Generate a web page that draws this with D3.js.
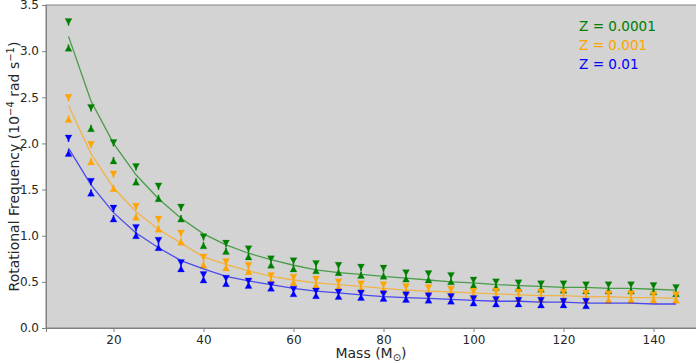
<!DOCTYPE html>
<html>
<head>
    <title>Rotational Frequency vs Mass</title>
    <script src="https://cdn.jsdelivr.net/npm/d3@7"></script>
    <style>
        body { margin: 0; background: #fff; }
        svg text { font-family: "DejaVu Sans", sans-serif; }
    </style>
</head>
<body>
    <div id="chart"></div>

    <script>
        // masses (solar masses)
        var masses = [10, 15, 20, 25, 30, 35, 40, 45, 50, 55, 60, 65, 70, 75, 80,
                      85, 90, 95, 100, 105, 110, 115, 120, 125, 130, 135, 140, 145];

        // Z = 0.0001
        var greenUpper = [3.32, 2.39, 2.01, 1.75, 1.54, 1.31, 0.99, 0.92, 0.86, 0.75, 0.73, 0.70, 0.68, 0.66,
                          0.65, 0.60, 0.59, 0.57, 0.52, 0.50, 0.49, 0.48, 0.48, 0.47, 0.47, 0.47, 0.46, 0.44];
        var greenLower = [3.03, 2.16, 1.81, 1.58, 1.40, 1.18, 0.89, 0.83, 0.77, 0.68, 0.64, 0.62, 0.60, 0.57,
                          0.56, 0.53, 0.52, 0.50, 0.46, 0.44, 0.43, 0.42, 0.41, 0.40, 0.40, 0.40, 0.39, 0.37];
        var greenFit   = [3.16, 2.46, 2.00, 1.66, 1.40, 1.19, 1.02, 0.90, 0.81, 0.74, 0.68, 0.63, 0.60, 0.58,
                          0.56, 0.54, 0.52, 0.50, 0.49, 0.47, 0.46, 0.45, 0.44, 0.44, 0.43, 0.43, 0.42, 0.41];

        // Z = 0.001
        var orangeUpper = [2.50, 1.99, 1.67, 1.32, 1.18, 1.03, 0.77, 0.72, 0.68, 0.57, 0.55, 0.53, 0.50, 0.48,
                           0.47, 0.45, 0.44, 0.42, 0.40, 0.40, 0.39, 0.39, 0.39, 0.38, 0.37, 0.37, 0.36, 0.36];
        var orangeLower = [2.26, 1.80, 1.51, 1.20, 1.07, 0.93, 0.68, 0.65, 0.61, 0.51, 0.49, 0.46, 0.44, 0.42,
                           0.41, 0.39, 0.38, 0.37, 0.35, 0.33, 0.32, 0.31, 0.31, 0.30, 0.30, 0.30, 0.30, 0.30];
        var orangeFit   = [2.41, 1.89, 1.52, 1.26, 1.07, 0.92, 0.77, 0.69, 0.62, 0.56, 0.52, 0.49, 0.47, 0.45,
                           0.43, 0.41, 0.40, 0.39, 0.38, 0.37, 0.36, 0.35, 0.35, 0.34, 0.34, 0.33, 0.33, 0.32];

        // Z = 0.01 (markers stop at 125)
        var blueUpper = [2.06, 1.59, 1.30, 1.09, 0.95, 0.71, 0.58, 0.54, 0.51, 0.47, 0.42, 0.40, 0.39, 0.38,
                         0.37, 0.36, 0.35, 0.34, 0.32, 0.31, 0.30, 0.30, 0.29, 0.29];
        var blueLower = [1.89, 1.46, 1.18, 1.00, 0.87, 0.64, 0.52, 0.48, 0.46, 0.43, 0.37, 0.35, 0.34, 0.33,
                         0.32, 0.31, 0.30, 0.29, 0.27, 0.26, 0.26, 0.25, 0.25, 0.24];
        var blueFit   = [1.95, 1.55, 1.25, 1.03, 0.87, 0.73, 0.64, 0.56, 0.51, 0.47, 0.43, 0.40, 0.38, 0.36,
                         0.34, 0.33, 0.32, 0.31, 0.30, 0.29, 0.29, 0.28, 0.28, 0.27, 0.27, 0.27, 0.26, 0.26];

        var xTicks = [20, 40, 60, 80, 100, 120, 140];
        var yTicks = [0.0, 0.5, 1.0, 1.5, 2.0, 2.5, 3.0, 3.5];

        var series = [
            { label: "Z = 0.0001", color: "green",  upper: greenUpper,  lower: greenLower,  fit: greenFit },
            { label: "Z = 0.001",  color: "orange", upper: orangeUpper, lower: orangeLower, fit: orangeFit },
            { label: "Z = 0.01",   color: "blue",   upper: blueUpper,   lower: blueLower,   fit: blueFit }
        ];

        var width = 696, height = 363;
        var plotLeft = 46, plotTop = 5, plotBottom = 328;

        var svg = d3.select("#chart").append("svg")
            .attr("width", width)
            .attr("height", height);

        var x = d3.scaleLinear().domain([5, 150]).range([plotLeft, plotLeft + 145 * 4.5]);
        var y = d3.scaleLinear().domain([0, 3.5]).range([plotBottom, plotTop]);

        // plot background
        svg.append("rect")
            .attr("x", plotLeft).attr("y", plotTop)
            .attr("width", x(150) - plotLeft).attr("height", plotBottom - plotTop)
            .attr("fill", "#d3d3d3")
            .attr("stroke", "#808080")
            .attr("stroke-width", 1);

        // axes
        var xAxis = svg.append("g")
            .attr("transform", "translate(0," + plotBottom + ")")
            .call(d3.axisBottom(x).tickValues(xTicks).tickFormat(d3.format("d")).tickSize(4).tickPadding(3));
        var yAxis = svg.append("g")
            .attr("transform", "translate(" + plotLeft + ",0)")
            .call(d3.axisLeft(y).tickValues(yTicks).tickFormat(d3.format(".1f")).tickSize(4).tickPadding(3));

        [xAxis, yAxis].forEach(function (a) {
            a.select(".domain").attr("stroke", "#808080");
            a.selectAll(".tick line").attr("stroke", "#808080");
            a.selectAll(".tick text")
                .attr("fill", "#262626")
                .style("font-size", "12px")
                .style("font-family", "DejaVu Sans");
        });

        // fitted curves
        var line = d3.line()
            .x(function (d) { return x(d[0]); })
            .y(function (d) { return y(d[1]); });

        // triangle markers centred on their bounding box, like matplotlib "^" and "v"
        var triUp = "M-3.5,3L3.5,3L0,-3.2Z";
        var triDown = "M-3.5,-3L3.5,-3L0,3.2Z";
        var stub = 4; // short error-bar line from each marker towards its partner

        series.forEach(function (s) {
            svg.append("path")
                .datum(masses.map(function (m, i) { return [m, s.fit[i]]; }))
                .attr("fill", "none")
                .attr("stroke", s.color)
                .attr("stroke-opacity", 0.65)
                .attr("stroke-width", 1.3)
                .attr("d", line);

            var pts = s.upper.map(function (u, i) {
                return { m: masses[i], hi: u, lo: s.lower[i] };
            });
            var g = svg.append("g");

            g.selectAll(".bar-hi").data(pts).enter().append("line")
                .attr("x1", function (d) { return x(d.m); })
                .attr("x2", function (d) { return x(d.m); })
                .attr("y1", function (d) { return y(d.hi); })
                .attr("y2", function (d) { return Math.min(y(d.hi) + stub, (y(d.hi) + y(d.lo)) / 2); })
                .attr("stroke", s.color)
                .attr("stroke-width", 1.5);

            g.selectAll(".bar-lo").data(pts).enter().append("line")
                .attr("x1", function (d) { return x(d.m); })
                .attr("x2", function (d) { return x(d.m); })
                .attr("y1", function (d) { return y(d.lo); })
                .attr("y2", function (d) { return Math.max(y(d.lo) - stub, (y(d.hi) + y(d.lo)) / 2); })
                .attr("stroke", s.color)
                .attr("stroke-width", 1.5);

            // lower end: upward triangle
            g.selectAll(".lo").data(pts).enter().append("path")
                .attr("d", triUp)
                .attr("transform", function (d) { return "translate(" + x(d.m) + "," + y(d.lo) + ")"; })
                .attr("fill", s.color)
                .attr("stroke", s.color)
                .attr("stroke-opacity", 0.3)
                .attr("stroke-width", 0.8);

            // upper end: downward triangle
            g.selectAll(".hi").data(pts).enter().append("path")
                .attr("d", triDown)
                .attr("transform", function (d) { return "translate(" + x(d.m) + "," + y(d.hi) + ")"; })
                .attr("fill", s.color)
                .attr("stroke", s.color)
                .attr("stroke-opacity", 0.3)
                .attr("stroke-width", 0.8);
        });

        // legend text
        svg.selectAll(".legend").data(series).enter().append("text")
            .attr("x", 579)
            .attr("y", function (d, i) { return 30.5 + i * 19.3; })
            .attr("fill", function (d) { return d.color; })
            .style("font-size", "13.6px")
            .text(function (d) { return d.label; });

        // x label
        var xl = svg.append("text")
            .attr("x", (plotLeft + width) / 2)
            .attr("y", 358)
            .attr("text-anchor", "middle")
            .attr("fill", "#262626")
            .style("font-size", "14px");
        xl.append("tspan").text("Mass (M");
        xl.append("tspan").attr("dy", 3).style("font-size", "10px").text("\u2299");
        xl.append("tspan").attr("dy", -3).text(")");

        // y label
        var yl = svg.append("text")
            .attr("transform", "translate(19," + ((plotTop + plotBottom) / 2) + ") rotate(-90)")
            .attr("text-anchor", "middle")
            .attr("fill", "#262626")
            .style("font-size", "14px");
        yl.append("tspan").text("Rotational Frequency (10");
        yl.append("tspan").attr("dy", -5).style("font-size", "10px").text("\u22124");
        yl.append("tspan").attr("dy", 5).text(" rad s");
        yl.append("tspan").attr("dy", -5).style("font-size", "10px").text("\u22121");
        yl.append("tspan").attr("dy", 5).text(")");
    </script>
</body>
</html>
